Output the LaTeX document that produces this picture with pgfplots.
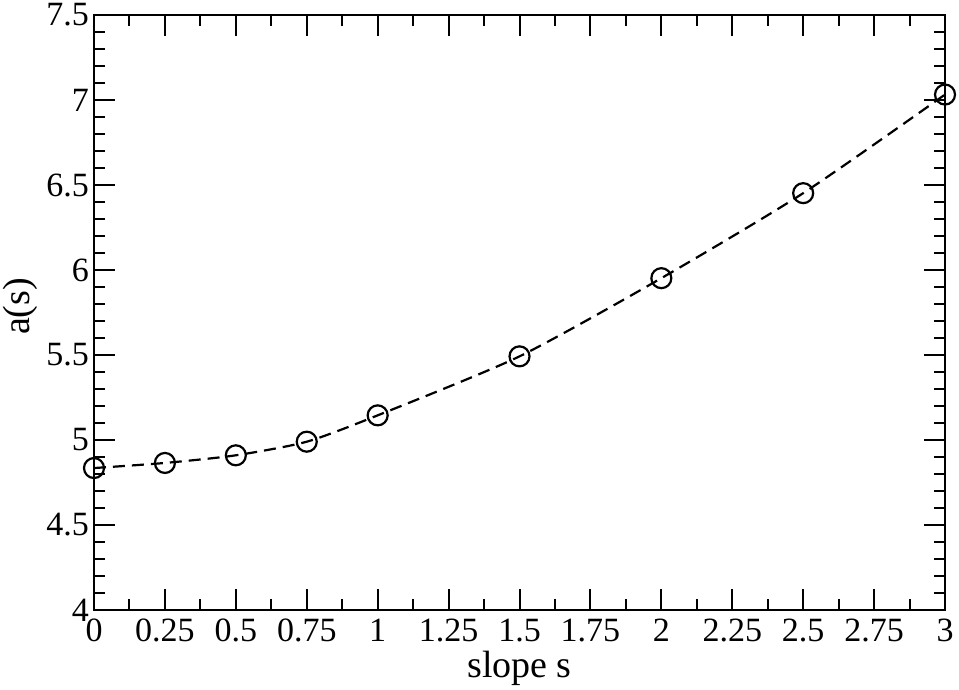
\documentclass[border=0pt]{standalone}
\usepackage{fontspec}
\setmainfont{Liberation Serif}
\usepackage{pgfplots}
\pgfplotsset{compat=1.18}
\begin{document}
\begin{tikzpicture}
\begin{axis}[
  scale only axis,
  width=425.5pt, height=297.5pt,
  xmin=0, xmax=3, ymin=4, ymax=7.5,
  xtick={0,0.25,...,3},
  ytick={4,4.5,...,7.5},
  minor x tick num=1,
  minor y tick num=4,
  tick align=inside,
  major tick length=10.5pt,
  minor tick length=5.5pt,
  every tick/.style={line width=1pt, black},
  axis line style={line width=1pt},
  /pgf/number format/assume math mode=true,
  tick label style={font=\fontsize{17}{20}\selectfont},
  xticklabel style={yshift=-1pt},
  yticklabel style={xshift=1pt},
  label style={font=\fontsize{19}{22}\selectfont},
  xlabel={slope s},
  ylabel={a(s)},
  xlabel style={at={(axis description cs:0.5,0)}, anchor=base, yshift=-33.5pt},
  ylabel style={at={(axis description cs:0,0.5)}, anchor=center, yshift=37pt, xshift=3pt},
  clip=false,
]
\addplot[black, line width=1.1pt, dash pattern=on 6pt off 3.5pt, smooth, tension=0.4,
  mark=o, mark size=5pt, mark options={solid, line width=1.1pt}]
  coordinates {
  (0,4.835) (0.25,4.865) (0.5,4.91) (0.75,4.99) (1,5.145)
  (1.5,5.492) (2,5.952) (2.5,6.452) (3,7.032)
  };
\coordinate (bl) at (rel axis cs:0,0);
\coordinate (tr) at (rel axis cs:1,1);
\end{axis}
\pgfresetboundingbox
\path ([xshift=-47pt,yshift=-39.5pt]bl) rectangle ([xshift=7pt,yshift=7.5pt]tr);
\end{tikzpicture}
\end{document}
